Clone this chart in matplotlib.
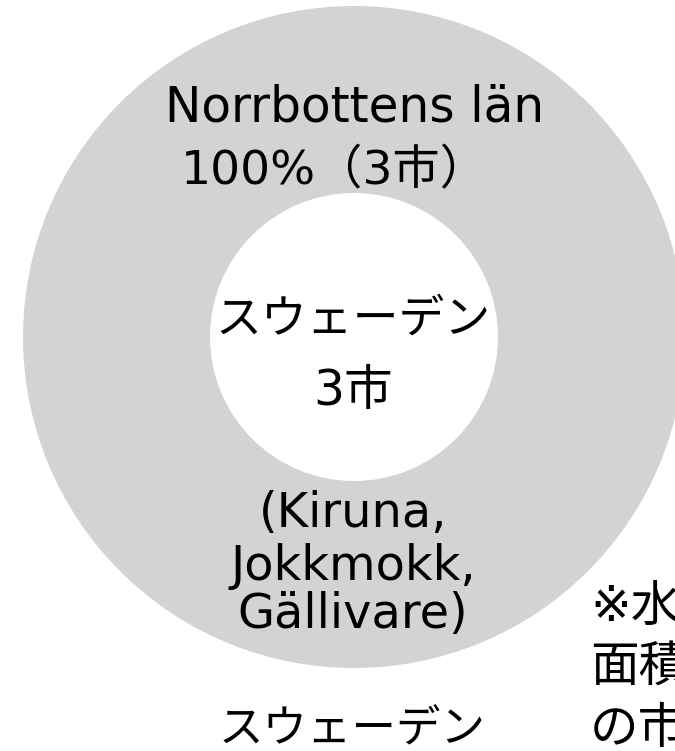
import matplotlib.pyplot as plt

# donut data: one region covers 100% of the cities
shares = [100]
ring_color = "#d3d3d3"

top_labels = ["Norrbottens län", "100%（3市）"]
center_labels = ["スウェーデン", "3市"]
city_labels = ["(Kiruna,", "Jokkmokk,", "Gällivare)"]
bottom_label = "スウェーデン"
note_labels = ["※水", "面積", "の市"]

W, H = 675, 751
FONTS = ["DejaVu Sans", "Noto Sans CJK JP"]

fig = plt.figure(figsize=(W / 100, H / 100), dpi=100)
ax = fig.add_axes([0, 0, 1, 1])

cx, cy, r_out, r_in = 354, 337, 331, 144
ax.pie(
    shares,
    colors=[ring_color],
    center=(cx, cy),
    radius=r_out,
    startangle=90,
    wedgeprops=dict(width=r_out - r_in, edgecolor="none"),
)

ax.set_xlim(0, W)
ax.set_ylim(H, 0)
ax.set_aspect("equal")
ax.axis("off")


def put(s, x, y, size, ha="center"):
    ax.text(x, y, s, ha=ha, va="baseline", fontsize=size, family=FONTS, color="black")


put(top_labels[0], 355, 122, 35)
put(top_labels[1], 334, 183, 34)

put(center_labels[0], 353, 333, 33)
put(center_labels[1], 353, 405, 35)

for s, y in zip(city_labels, [527, 580, 628]):
    put(s, 353, y, 34.5)

put(bottom_label, 352, 742, 32)

for s, y in zip(note_labels, [621, 681, 743]):
    put(s, 590, y, 35, ha="left")

fig.savefig("out.png", dpi=100)
